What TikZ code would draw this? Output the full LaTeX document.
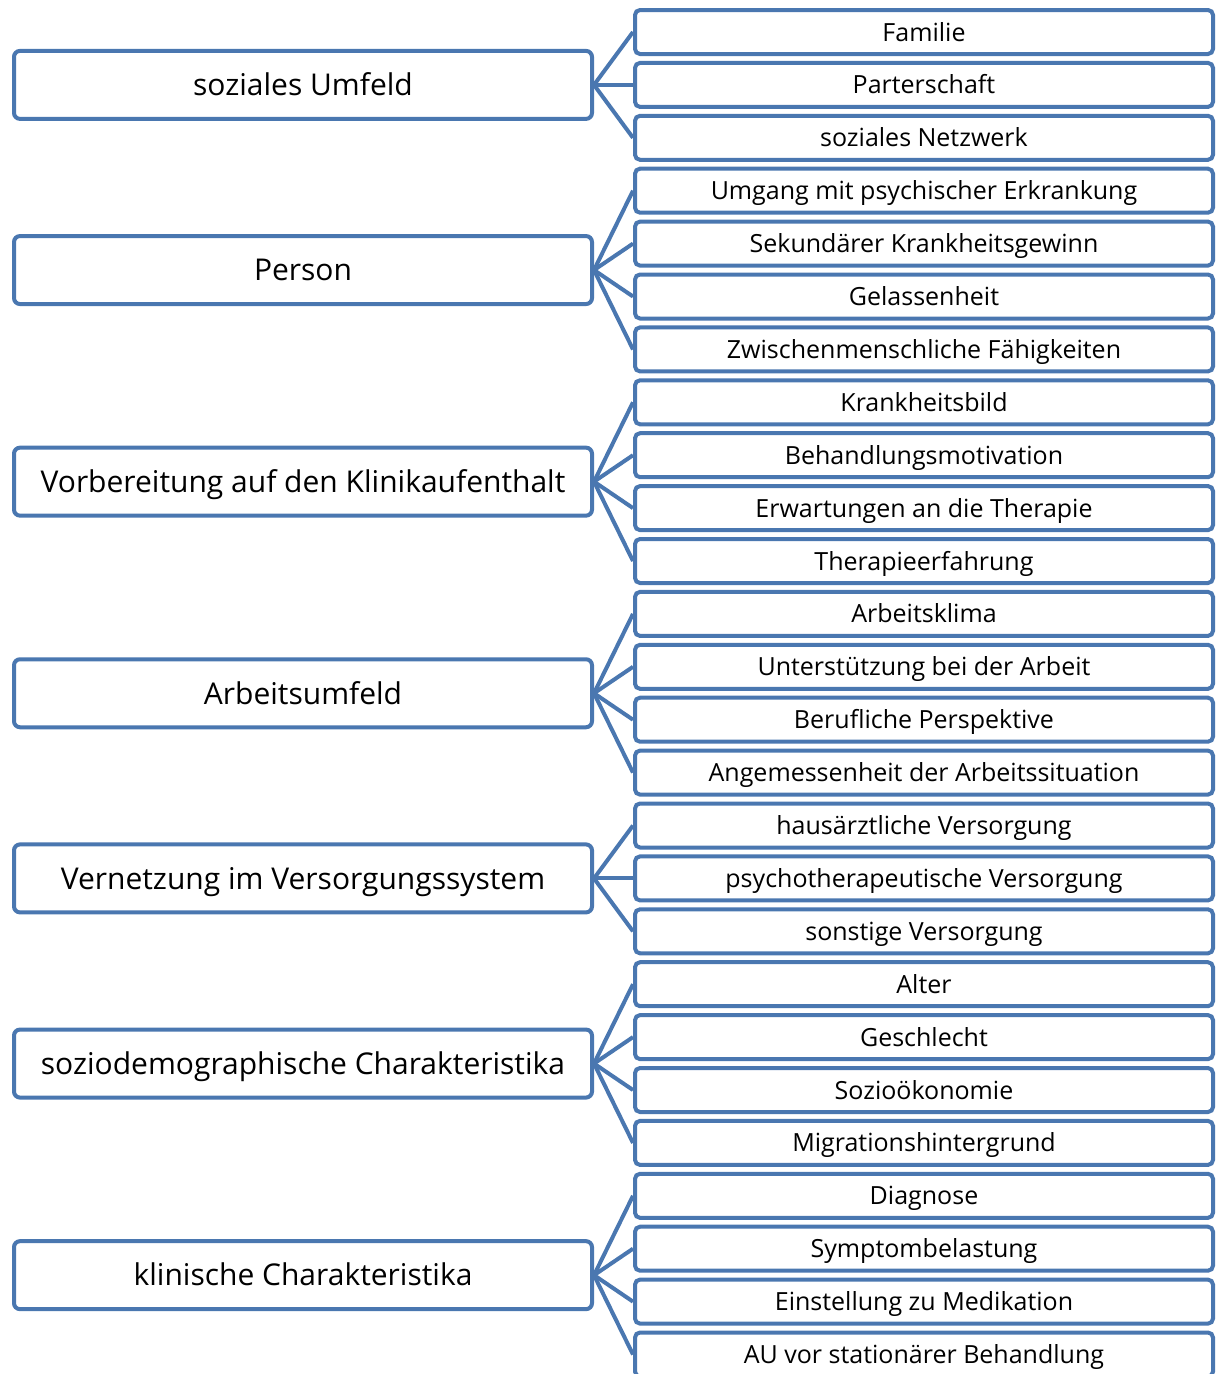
\documentclass[tikz,border=0pt]{standalone}
\usepackage{fontspec}
\setmainfont{Open Sans}
\definecolor{bl}{HTML}{4A77B0}
\begin{document}
\begin{tikzpicture}[x=1pt,y=-1pt,
  parent/.style={draw=bl,fill=white,line width=4pt,rounded corners=6pt,minimum width=578pt,minimum height=68pt,inner sep=0pt,text height=21.5pt,text depth=0pt,font=\fontsize{30}{35}\selectfont},
  child/.style={draw=bl,fill=white,line width=4pt,rounded corners=5pt,minimum width=578pt,minimum height=44pt,inner sep=0pt,text height=18pt,text depth=0pt,font=\fontsize{25}{30}\selectfont},
  conn/.style={draw=bl,line width=4pt}]
\useasboundingbox (0,0) rectangle (1216,1374);
\clip (0,0) rectangle (1216,1374);
% parents
\node[parent] (p1) at (303,84.9) {soziales Umfeld};
\node[parent] (p2) at (303,270.05) {Person};
\node[parent] (p3) at (303,481.65) {Vorbereitung auf den Klinikaufenthalt};
\node[parent] (p4) at (303,693.25) {Arbeitsumfeld};
\node[parent] (p5) at (303,878.4) {Vernetzung im Versorgungssystem};
\node[parent] (p6) at (303,1063.55) {soziodemographische Charakteristika};
\node[parent] (p7) at (303,1275.15) {klinische Charakteristika};
% children
\node[child] (c1) at (924,32) {Familie};
\node[child] (c2) at (924,84.9) {Parterschaft};
\node[child] (c3) at (924,137.8) {soziales Netzwerk};
\node[child] (c4) at (924,190.7) {Umgang mit psychischer Erkrankung};
\node[child] (c5) at (924,243.6) {Sekundärer Krankheitsgewinn};
\node[child] (c6) at (924,296.5) {Gelassenheit};
\node[child] (c7) at (924,349.4) {Zwischenmenschliche Fähigkeiten};
\node[child] (c8) at (924,402.3) {Krankheitsbild};
\node[child] (c9) at (924,455.2) {Behandlungsmotivation};
\node[child] (c10) at (924,508.1) {Erwartungen an die Therapie};
\node[child] (c11) at (924,561) {Therapieerfahrung};
\node[child] (c12) at (924,613.9) {Arbeitsklima};
\node[child] (c13) at (924,666.8) {Unterstützung bei der Arbeit};
\node[child] (c14) at (924,719.7) {Berufliche Perspektive};
\node[child] (c15) at (924,772.6) {Angemessenheit der Arbeitssituation};
\node[child] (c16) at (924,825.5) {hausärztliche Versorgung};
\node[child] (c17) at (924,878.4) {psychotherapeutische Versorgung};
\node[child] (c18) at (924,931.3) {sonstige Versorgung};
\node[child] (c19) at (924,984.2) {Alter};
\node[child] (c20) at (924,1037.1) {Geschlecht};
\node[child] (c21) at (924,1090) {Sozioökonomie};
\node[child] (c22) at (924,1142.9) {Migrationshintergrund};
\node[child] (c23) at (924,1195.8) {Diagnose};
\node[child] (c24) at (924,1248.7) {Symptombelastung};
\node[child] (c25) at (924,1301.6) {Einstellung zu Medikation};
\node[child] (c26) at (924,1354.5) {AU vor stationärer Behandlung};
% connectors
\foreach \c in {1,2,3} \draw[conn] (p1.east) -- (c\c.west);
\foreach \c in {4,5,6,7} \draw[conn] (p2.east) -- (c\c.west);
\foreach \c in {8,9,10,11} \draw[conn] (p3.east) -- (c\c.west);
\foreach \c in {12,13,14,15} \draw[conn] (p4.east) -- (c\c.west);
\foreach \c in {16,17,18} \draw[conn] (p5.east) -- (c\c.west);
\foreach \c in {19,20,21,22} \draw[conn] (p6.east) -- (c\c.west);
\foreach \c in {23,24,25,26} \draw[conn] (p7.east) -- (c\c.west);
\end{tikzpicture}
\end{document}
